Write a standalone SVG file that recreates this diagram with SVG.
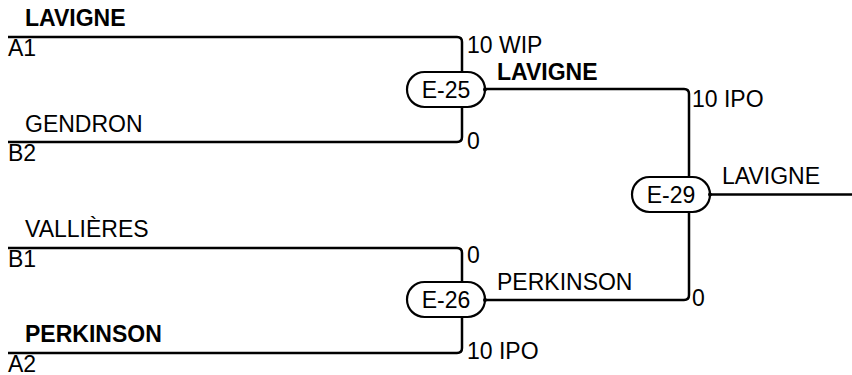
<svg xmlns="http://www.w3.org/2000/svg" width="852" height="375" viewBox="0 0 852 375">
<style>
.ln{fill:none;stroke:#000;stroke-width:2.5}
.pill{fill:#fff;stroke:#000;stroke-width:2.2}
.t{font-family:"Liberation Sans",Arial,sans-serif;font-size:23px;fill:#000}
.b{font-weight:bold}
.c{text-anchor:middle}
</style>
<rect width="852" height="375" fill="#fff"/>
<g id="connectors">
<path class="ln" d="M8,37 H457 Q462,37 462,42 V137 Q462,142 457,142 H8"/>
<path class="ln" d="M8,248 H457 Q462,248 462,253 V348 Q462,353 457,353 H8"/>
<path class="ln" d="M485,89 H684 Q689,89 689,94 V295 Q689,300 684,300 H485"/>
<path class="ln" d="M710,194.5 H852"/>
</g>
<g id="slots">
<text class="t b" x="25" y="26">LAVIGNE</text>
<text class="t" x="8" y="56">A1</text>
<text class="t" x="25" y="132">GENDRON</text>
<text class="t" x="8" y="161">B2</text>
<text class="t" x="25" y="237">VALLIÈRES</text>
<text class="t" x="8" y="267">B1</text>
<text class="t b" x="25" y="342">PERKINSON</text>
<text class="t" x="8" y="372">A2</text>
</g>
<g id="E-25">
<rect class="pill" x="407" y="72" width="78" height="35" rx="17.5"/>
<circle cx="485" cy="89.5" r="2"/>
<text class="t c" x="446" y="98">E-25</text>
<text class="t" x="467" y="53">10 WIP</text>
<text class="t" x="467" y="149">0</text>
<text class="t b" x="497" y="80">LAVIGNE</text>
</g>
<g id="E-26">
<rect class="pill" x="407" y="282" width="78" height="35" rx="17.5"/>
<circle cx="485" cy="300" r="2"/>
<text class="t c" x="446" y="308">E-26</text>
<text class="t" x="467" y="263">0</text>
<text class="t" x="467" y="359">10 IPO</text>
<text class="t" x="497" y="290">PERKINSON</text>
</g>
<g id="E-29">
<rect class="pill" x="632" y="177" width="78" height="35" rx="17.5"/>
<circle cx="710" cy="194.5" r="2"/>
<text class="t c" x="671" y="203">E-29</text>
<text class="t" x="692" y="107">10 IPO</text>
<text class="t" x="692" y="306">0</text>
<text class="t" x="722" y="184">LAVIGNE</text>
</g>
</svg>
